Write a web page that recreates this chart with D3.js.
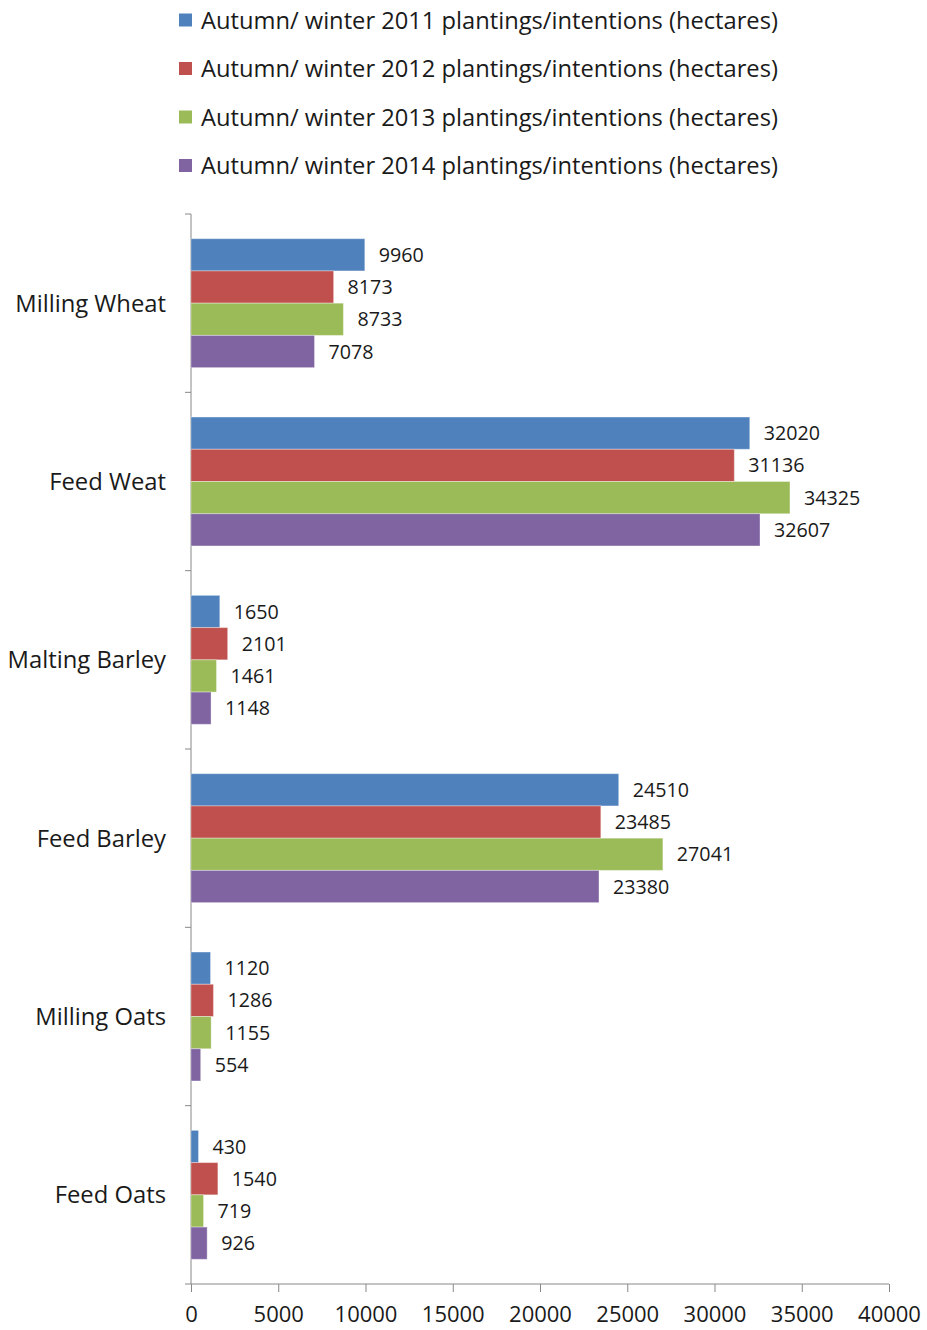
<!DOCTYPE html>
<html>
<head>
<meta charset="utf-8">
<script src="https://cdn.jsdelivr.net/npm/d3@7"></script>
<style>
  body { margin: 0; background: #fff; }
  svg text { font-family: "Open Sans", sans-serif; fill: #1a1a1a; }
</style>
</head>
<body>
<div id="chart"></div>
<script>
const categories = ["Milling Wheat", "Feed Weat", "Malting Barley", "Feed Barley", "Milling Oats", "Feed Oats"]
const seriesNames = [
    "Autumn/ winter 2011 plantings/intentions (hectares)",
    "Autumn/ winter 2012 plantings/intentions (hectares)",
    "Autumn/ winter 2013 plantings/intentions (hectares)",
    "Autumn/ winter 2014 plantings/intentions (hectares)"
]
const values2011 = [9960, 32020, 1650, 24510, 1120, 430]
const values2012 = [8173, 31136, 2101, 23485, 1286, 1540]
const values2013 = [8733, 34325, 1461, 27041, 1155, 719]
const values2014 = [7078, 32607, 1148, 23380, 554, 926]
const xTicks = [0, 5000, 10000, 15000, 20000, 25000, 30000, 35000, 40000]
const colors = ["#4F81BD", "#C0504D", "#9BBB59", "#8064A2"]

const series = [values2011, values2012, values2013, values2014]

const width = 927, height = 1330
const plotLeft = 191, plotRight = 889, plotTop = 214, plotBottom = 1284

const svg = d3.select("#chart").append("svg")
    .attr("width", width)
    .attr("height", height)

// legend
const legend = svg.selectAll(".legend-item")
    .data(seriesNames)
    .enter()
    .append("g")
        .attr("class", "legend-item")
        .attr("transform", (d, i) => "translate(179," + (20 + i * 48.5) + ")")
legend.append("rect")
    .attr("x", 0).attr("y", -6.5)
    .attr("width", 13).attr("height", 13)
    .attr("fill", (d, i) => colors[i])
legend.append("text")
    .attr("x", 22).attr("dy", "0.36em")
    .style("font-size", "23.7px")
    .text(d => d)

const x = d3.scaleLinear().domain([0, 40000]).range([plotLeft, plotRight])
const y = d3.scaleBand().domain(categories).range([plotTop, plotBottom]).paddingInner(0.277).paddingOuter(0.1385)
const ySub = d3.scaleBand().domain(d3.range(series.length)).range([0, y.bandwidth()])

// axes
const xAxis = svg.append("g")
    .attr("transform", "translate(0," + plotBottom + ")")
    .call(d3.axisBottom(x).tickValues(xTicks).tickFormat(d3.format("d")).tickSize(8).tickPadding(14))
xAxis.select(".domain").attr("stroke", "#888").attr("d", "M" + (plotLeft - 6) + ",0H" + plotRight)
xAxis.selectAll(".tick line").attr("stroke", "#888")
xAxis.selectAll("text").style("font-size", "22px")

const bounds = d3.range(categories.length + 1).map(i => plotTop + i * (plotBottom - plotTop) / categories.length)
svg.append("line")
    .attr("x1", plotLeft).attr("x2", plotLeft)
    .attr("y1", plotTop).attr("y2", plotBottom)
    .attr("stroke", "#888")
svg.selectAll(".ytick")
    .data(bounds.slice(0, -1))
    .enter()
    .append("line")
        .attr("x1", plotLeft - 6).attr("x2", plotLeft)
        .attr("y1", d => d).attr("y2", d => d)
        .attr("stroke", "#888")

svg.selectAll(".cat-label")
    .data(categories)
    .enter()
    .append("text")
        .attr("x", 166)
        .attr("y", d => y(d) + y.bandwidth() / 2)
        .attr("dy", "0.36em")
        .attr("text-anchor", "end")
        .style("font-size", "23.8px")
        .text(d => d)

// bars
series.forEach((vals, si) => {
    const data = categories.map((c, i) => ({cat: c, value: vals[i]}))
    const g = svg.append("g")
    g.selectAll("rect")
        .data(data)
        .enter()
        .append("rect")
            .attr("x", x(0))
            .attr("y", d => y(d.cat) + ySub(si))
            .attr("width", d => x(d.value) - x(0))
            .attr("height", ySub.bandwidth())
            .attr("fill", colors[si])
            .attr("stroke", "rgba(255,255,255,0.35)")
            .attr("stroke-width", 1)
    g.selectAll("text")
        .data(data)
        .enter()
        .append("text")
            .attr("x", d => x(d.value) + 14)
            .attr("y", d => y(d.cat) + ySub(si) + ySub.bandwidth() / 2)
            .attr("dy", "0.36em")
            .style("font-size", "19.7px")
            .text(d => d.value)
})
</script>
</body>
</html>
